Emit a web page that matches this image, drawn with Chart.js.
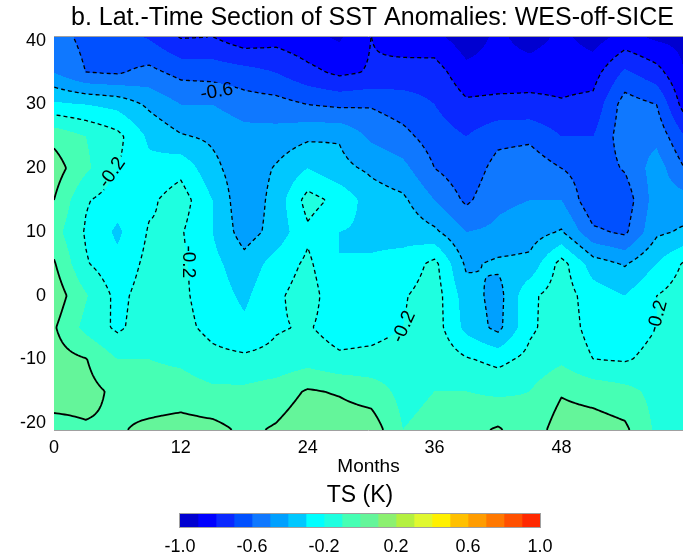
<!DOCTYPE html>
<html>
<head>
<meta charset="utf-8">
<script src="https://cdn.jsdelivr.net/npm/chart.js@4.4.0/dist/chart.umd.min.js"></script>
<style>
  html, body { margin: 0; padding: 0; background: #fff; }
  #wrap { position: relative; width: 683px; height: 556px; }
  .box { position: absolute; left: 0; width: 683px; }
</style>
</head>
<body>
<div id="wrap">
  <div class="box" style="top:0;height:478px"><canvas id="main"></canvas></div>
  <div class="box" style="top:478px;height:78px"><canvas id="bar"></canvas></div>
</div>
<script>
// ========== 1) data ==========
const months = [0, 3, 6, 9, 12, 15, 18, 21, 24, 27, 30, 33, 36, 39, 42, 45, 48, 51, 54, 57, 60];
const lats = [41, 35, 30, 25, 20, 15, 10, 5, 0, -5, -10, -15, -21];

// SST anomaly (K), one row per latitude, one value per month above
const lat41  = [-0.56, -0.63, -0.66, -0.72, -0.82, -0.81, -0.88, -0.85, -0.88, -0.92, -0.80, -0.86, -0.88, -0.96, -0.88, -0.95, -0.88, -0.95, -0.88, -0.93, -0.93];
const lat35  = [-0.50, -0.60, -0.61, -0.57, -0.63, -0.64, -0.66, -0.70, -0.77, -0.82, -0.79, -0.76, -0.75, -0.87, -0.86, -0.85, -0.84, -0.84, -0.68, -0.76, -0.92];
const lat30  = [-0.28, -0.30, -0.33, -0.42, -0.50, -0.50, -0.55, -0.56, -0.60, -0.62, -0.61, -0.65, -0.70, -0.78, -0.77, -0.77, -0.79, -0.77, -0.55, -0.60, -0.88];
const lat25  = [-0.03, -0.10, -0.17, -0.32, -0.39, -0.42, -0.46, -0.46, -0.42, -0.41, -0.52, -0.57, -0.65, -0.70, -0.63, -0.62, -0.70, -0.70, -0.54, -0.53, -0.72];
const lat20  = [ 0.05, -0.08, -0.20, -0.27, -0.23, -0.37, -0.47, -0.39, -0.30, -0.37, -0.42, -0.47, -0.60, -0.67, -0.56, -0.54, -0.60, -0.66, -0.59, -0.45, -0.62];
const lat15  = [ 0.00, -0.19, -0.25, -0.22, -0.15, -0.30, -0.48, -0.36, -0.16, -0.23, -0.35, -0.38, -0.50, -0.62, -0.52, -0.50, -0.50, -0.68, -0.66, -0.45, -0.46];
const lat10  = [-0.06, -0.21, -0.32, -0.19, -0.19, -0.30, -0.45, -0.36, -0.22, -0.30, -0.32, -0.33, -0.38, -0.50, -0.48, -0.45, -0.39, -0.58, -0.62, -0.42, -0.38];
const lat5   = [ 0.01, -0.19, -0.27, -0.17, -0.18, -0.27, -0.36, -0.26, -0.18, -0.30, -0.29, -0.27, -0.17, -0.42, -0.38, -0.37, -0.16, -0.35, -0.41, -0.30, -0.17];
const lat0   = [ 0.06, -0.09, -0.23, -0.15, -0.18, -0.25, -0.32, -0.22, -0.15, -0.28, -0.27, -0.21, -0.15, -0.35, -0.44, -0.22, -0.15, -0.25, -0.30, -0.20, -0.14];
const latS5  = [ 0.01, -0.13, -0.22, -0.14, -0.17, -0.23, -0.28, -0.21, -0.19, -0.25, -0.24, -0.20, -0.15, -0.33, -0.43, -0.22, -0.14, -0.24, -0.25, -0.20, -0.14];
const latS10 = [ 0.04, 0.005, -0.10, -0.10, -0.12, -0.17, -0.18, -0.17, -0.14, -0.18, -0.17, -0.15, -0.12, -0.19, -0.23, -0.17, -0.12, -0.20, -0.21, -0.17, -0.13];
const latS15 = [ 0.04, 0.03, -0.02, -0.05, -0.05, -0.08, -0.08, -0.05, 0.01, -0.01, -0.05, -0.13, -0.10, -0.10, -0.12, -0.10, -0.01, -0.04, -0.07, -0.13, -0.14];
const latS21 = [-0.03, -0.01, -0.01, 0.02, 0.04, 0.03, -0.02, 0.01, 0.06, 0.06, 0.06, -0.10, -0.07, -0.03, 0.01, -0.06, 0.05, 0.05, 0.02, -0.12, -0.15];
const sstRows = [lat41, lat35, lat30, lat25, lat20, lat15, lat10, lat5, lat0, latS5, latS10, latS15, latS21];

// colour levels of the label bar
const levels = [-1.0, -0.9, -0.8, -0.7, -0.6, -0.5, -0.4, -0.3, -0.2, -0.1, 0.0, 0.1, 0.2, 0.3, 0.4, 0.5, 0.6, 0.7, 0.8, 0.9, 1.0];
const fillColors = ['#0000d0', '#0000ff', '#0a28ff', '#0050ff', '#0f78ff', '#00a0ff', '#00c8ff', '#00ffff', '#1effe0', '#46ffb4',
                    '#64f59a', '#8cf070', '#b4f040', '#e0f830', '#fff000', '#ffc000', '#ff9c00', '#ff7800', '#ff5000', '#ff2800'];
const lineLevels = [-0.8, -0.6, -0.4, -0.2, 0.0];

const xTicks = [0, 12, 24, 36, 48];
const yTicks = [-20, -10, 0, 10, 20, 30, 40];
const barTicks = [-1.0, -0.6, -0.2, 0.2, 0.6, 1.0];

// contour labels (month, latitude, text angle)
const contourLabels = [
  { text: '-0.6', month: 15.4, lat: 32.0, angle: -10 },
  { text: '-0.2', month: 5.5, lat: 19.3, angle: -55 },
  { text: '-0.2', month: 12.7, lat: 5.3, angle: 90 },
  { text: '-0.2', month: 33.1, lat: -4.9, angle: -65 },
  { text: '-0.2', month: 57.1, lat: -3.3, angle: -75 }
];

const titleText = 'b. Lat.-Time Section of SST Anomalies: WES-off-SICE';
const FONT = "'Liberation Sans', Arial, sans-serif";
const X_MIN = 0, X_MAX = 59.5, Y_MIN = -21.1, Y_MAX = 40.6;

// ========== 2) helpers ==========
const hexToRgb = h => [parseInt(h.slice(1, 3), 16), parseInt(h.slice(3, 5), 16), parseInt(h.slice(5, 7), 16)];

function locate(axis, v) {
  const n = axis.length;
  for (let i = 0; i < n - 1; i++) {
    const a = axis[i], b = axis[i + 1];
    if ((v - a) * (v - b) <= 0) return [i, (v - a) / (b - a)];
  }
  return Math.abs(v - axis[0]) < Math.abs(v - axis[n - 1]) ? [0, 0] : [n - 2, 1];
}

function sstAt(m, lat) {
  const [i, fx] = locate(months, m);
  const [j, fy] = locate(lats, lat);
  const r0 = sstRows[j], r1 = sstRows[j + 1];
  const a = r0[i] + (r0[i + 1] - r0[i]) * fx;
  const b = r1[i] + (r1[i + 1] - r1[i]) * fx;
  return a + (b - a) * fy;
}

function binOf(v) {
  for (let k = 1; k < levels.length - 1; k++) if (v < levels[k]) return k - 1;
  return levels.length - 2;
}

// marching squares on a fine grid in data space, segments chained into polylines
function contourPaths(level, step) {
  const nx = Math.round((X_MAX - X_MIN) / step) + 1;
  const ny = Math.round((Y_MAX - Y_MIN) / step) + 1;
  const gm = i => Math.min(X_MIN + i * step, X_MAX);
  const gl = j => Math.min(Y_MIN + j * step, Y_MAX);
  const val = new Float64Array(nx * ny);
  for (let j = 0; j < ny; j++) for (let i = 0; i < nx; i++) val[j * nx + i] = sstAt(gm(i), gl(j));

  const nodes = new Map();
  const node = (id, pt) => { if (!nodes.has(id)) nodes.set(id, { pt, links: [] }); return id; };
  const hEdge = (i, j) => {
    const a = val[j * nx + i], b = val[j * nx + i + 1], t = (level - a) / (b - a);
    return node('h' + i + '_' + j, [gm(i) + t * (gm(i + 1) - gm(i)), gl(j)]);
  };
  const vEdge = (i, j) => {
    const a = val[j * nx + i], b = val[(j + 1) * nx + i], t = (level - a) / (b - a);
    return node('v' + i + '_' + j, [gm(i), gl(j) + t * (gl(j + 1) - gl(j))]);
  };
  const link = (p, q) => { nodes.get(p).links.push(q); nodes.get(q).links.push(p); };

  for (let j = 0; j < ny - 1; j++) {
    for (let i = 0; i < nx - 1; i++) {
      const va = val[j * nx + i], vb = val[j * nx + i + 1], vc = val[(j + 1) * nx + i + 1], vd = val[(j + 1) * nx + i];
      const A = va >= level, B = vb >= level, C = vc >= level, D = vd >= level;
      const cut = [];
      if (A !== B) cut.push(0);
      if (B !== C) cut.push(1);
      if (D !== C) cut.push(2);
      if (A !== D) cut.push(3);
      if (!cut.length) continue;
      const e = k => k === 0 ? hEdge(i, j) : k === 1 ? vEdge(i + 1, j) : k === 2 ? hEdge(i, j + 1) : vEdge(i, j);
      if (cut.length === 2) {
        link(e(cut[0]), e(cut[1]));
      } else {
        const centre = (va + vb + vc + vd) / 4 >= level;
        if (centre === A) { link(e(0), e(1)); link(e(2), e(3)); }
        else { link(e(3), e(0)); link(e(1), e(2)); }
      }
    }
  }

  const seen = new Set();
  const paths = [];
  const walk = start => {
    const pts = [];
    let prev = null, cur = start;
    while (cur !== undefined && !seen.has(cur)) {
      seen.add(cur);
      pts.push(nodes.get(cur).pt);
      const nxt = nodes.get(cur).links.find(n => n !== prev && !seen.has(n));
      prev = cur;
      cur = nxt;
    }
    if (pts.length > 2 && nodes.get(prev).links.includes(start)) pts.push(nodes.get(start).pt);
    return pts;
  };
  nodes.forEach((n, id) => { if (n.links.length === 1 && !seen.has(id)) paths.push(walk(id)); });
  nodes.forEach((n, id) => { if (!seen.has(id)) paths.push(walk(id)); });
  return paths;
}

// ========== 3) plugins ==========
const fieldPlugin = {
  id: 'sstField',
  beforeDatasetsDraw(chart) {
    const { ctx, chartArea: a, scales: { x, y } } = chart;
    const left = Math.round(a.left), top = Math.round(a.top);
    const w = Math.round(a.right) - left, h = Math.round(a.bottom) - top;
    const rgb = fillColors.map(hexToRgb);
    const img = ctx.createImageData(w, h);
    const mCol = [];
    for (let px = 0; px < w; px++) mCol.push(x.getValueForPixel(left + px + 0.5));
    for (let py = 0; py < h; py++) {
      const lat = y.getValueForPixel(top + py + 0.5);
      for (let px = 0; px < w; px++) {
        const c = rgb[binOf(sstAt(mCol[px], lat))];
        const k = (py * w + px) * 4;
        img.data[k] = c[0]; img.data[k + 1] = c[1]; img.data[k + 2] = c[2]; img.data[k + 3] = 255;
      }
    }
    ctx.putImageData(img, left, top);
  }
};

const contourPlugin = {
  id: 'sstContours',
  afterDatasetsDraw(chart) {
    const { ctx, chartArea: a, scales: { x, y } } = chart;
    const labelFont = '19px ' + FONT;
    ctx.save();
    ctx.font = labelFont;
    // leave gaps where the labels go
    ctx.beginPath();
    ctx.rect(a.left, a.top, a.right - a.left, a.bottom - a.top);
    contourLabels.forEach(l => {
      const cx = x.getPixelForValue(l.month), cy = y.getPixelForValue(l.lat);
      const hw = ctx.measureText(l.text).width / 2 + 2, hh = 9;
      const r = l.angle * Math.PI / 180, c = Math.cos(r), s = Math.sin(r);
      const pts = [[-hw, -hh], [hw, -hh], [hw, hh], [-hw, hh]].map(([u, v]) => [cx + u * c - v * s, cy + u * s + v * c]);
      ctx.moveTo(pts[0][0], pts[0][1]);
      pts.slice(1).forEach(p => ctx.lineTo(p[0], p[1]));
      ctx.closePath();
    });
    ctx.clip('evenodd');

    ctx.strokeStyle = '#000';
    ctx.lineJoin = 'round';
    lineLevels.forEach(lv => {
      ctx.setLineDash(lv < 0 ? [4, 3] : []);
      ctx.lineWidth = lv < 0 ? 1.3 : 1.8;
      contourPaths(lv, 0.25).forEach(p => {
        ctx.beginPath();
        p.forEach(([m, lat], k) => {
          const px = x.getPixelForValue(m), py = y.getPixelForValue(lat);
          if (k) ctx.lineTo(px, py); else ctx.moveTo(px, py);
        });
        ctx.stroke();
      });
    });
    ctx.restore();

    ctx.save();
    ctx.font = labelFont;
    ctx.fillStyle = '#000';
    ctx.textAlign = 'center';
    ctx.textBaseline = 'middle';
    contourLabels.forEach(l => {
      ctx.save();
      ctx.translate(x.getPixelForValue(l.month), y.getPixelForValue(l.lat));
      ctx.rotate(l.angle * Math.PI / 180);
      ctx.fillText(l.text, 0, 0);
      ctx.restore();
    });
    ctx.restore();
  }
};

const framePlugin = {
  id: 'frame',
  afterDraw(chart) {
    const { ctx, chartArea: a } = chart;
    ctx.save();
    ctx.strokeStyle = '#a0a0a0';
    ctx.lineWidth = 1;
    ctx.beginPath();
    ctx.moveTo(a.left, a.top - 0.5); ctx.lineTo(a.right, a.top - 0.5);
    ctx.moveTo(a.left, a.bottom + 0.5); ctx.lineTo(a.right, a.bottom + 0.5);
    ctx.stroke();
    ctx.fillStyle = '#000';
    ctx.font = '25px ' + FONT;
    ctx.textAlign = 'center';
    ctx.textBaseline = 'middle';
    ctx.fillText(titleText, (a.left + a.right) / 2 + 4, 18);
    ctx.restore();
  }
};

const barFramePlugin = {
  id: 'barFrame',
  afterDatasetsDraw(chart) {
    const { ctx, chartArea: a } = chart;
    ctx.save();
    ctx.strokeStyle = '#a0a0a0';
    ctx.lineWidth = 1;
    ctx.strokeRect(a.left - 0.5, a.top - 0.5, a.right - a.left + 1, a.bottom - a.top + 1);
    ctx.restore();
  }
};

// ========== 4) charts ==========
Chart.defaults.font.family = FONT;
Chart.defaults.color = '#000';

new Chart(document.getElementById('main'), {
  type: 'scatter',
  data: { datasets: [{ data: [], pointRadius: 0 }] },
  options: {
    responsive: true,
    maintainAspectRatio: false,
    animation: false,
    devicePixelRatio: 1,
    layout: { padding: { top: 37, right: 0, left: 0, bottom: 0 } },
    plugins: { legend: { display: false }, tooltip: { enabled: false } },
    scales: {
      x: {
        type: 'linear', min: X_MIN, max: X_MAX,
        grid: { display: false, drawTicks: false },
        border: { display: false },
        afterBuildTicks: s => { s.ticks = xTicks.map(v => ({ value: v })); },
        afterFit: s => { s.height = 48; },
        ticks: { font: { size: 18 }, padding: 7, maxRotation: 0, autoSkip: false },
        title: { display: true, text: 'Months', font: { size: 19 }, padding: { top: 0, bottom: 0 } }
      },
      y: {
        type: 'linear', min: Y_MIN, max: Y_MAX,
        grid: { display: false, drawTicks: false },
        border: { display: false },
        afterBuildTicks: s => { s.ticks = yTicks.map(v => ({ value: v })); },
        afterFit: s => { s.width = 54; },
        ticks: { font: { size: 18 }, padding: 8, autoSkip: false }
      }
    }
  },
  plugins: [fieldPlugin, contourPlugin, framePlugin]
});

new Chart(document.getElementById('bar'), {
  type: 'bar',
  data: {
    labels: ['TS'],
    datasets: fillColors.map((c, k) => ({
      data: [[levels[k], levels[k + 1]]],
      backgroundColor: c,
      borderWidth: 0,
      grouped: false,
      barPercentage: 1,
      categoryPercentage: 1
    }))
  },
  options: {
    indexAxis: 'y',
    responsive: true,
    maintainAspectRatio: false,
    animation: false,
    devicePixelRatio: 1,
    layout: { padding: { left: 180, right: 143, top: 0, bottom: 0 } },
    plugins: {
      legend: { display: false },
      tooltip: { enabled: false },
      title: { display: true, text: 'TS (K)', font: { size: 23, weight: 'normal' }, padding: { top: 4, bottom: 4.4 } }
    },
    scales: {
      y: { display: false },
      x: {
        type: 'linear', min: -1, max: 1,
        grid: { display: false, drawTicks: false },
        border: { display: false },
        afterBuildTicks: s => { s.ticks = barTicks.map(v => ({ value: v })); },
        afterFit: s => { s.height = 29; },
        ticks: { font: { size: 18 }, padding: 9, autoSkip: false, maxRotation: 0, callback: v => v.toFixed(1) }
      }
    }
  },
  plugins: [barFramePlugin]
});
</script>
</body>
</html>
